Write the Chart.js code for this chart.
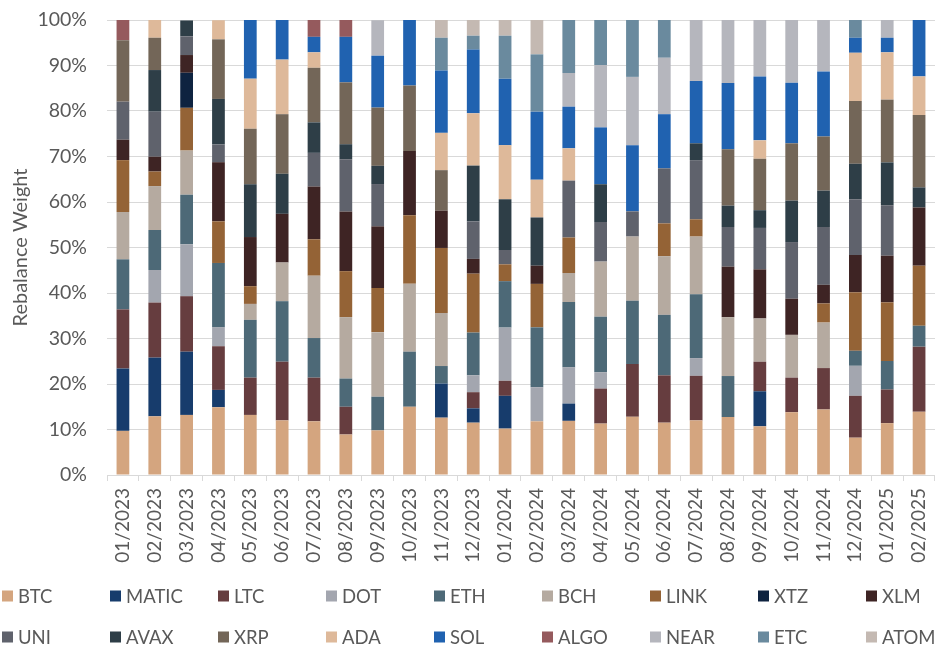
<!DOCTYPE html>
<html>
<head>
<meta charset="utf-8">
<script src="https://cdn.jsdelivr.net/npm/chart.js@4/dist/chart.umd.min.js"></script>
<style>
  html, body { margin: 0; padding: 0; background: #ffffff; }
  #wrap { width: 949px; height: 645px; position: relative; }
</style>
</head>
<body>
<div id="wrap"><canvas id="c" width="949" height="645"></canvas></div>
<script>
const months = ["01/2023","02/2023","03/2023","04/2023","05/2023","06/2023","07/2023","08/2023","09/2023","10/2023","11/2023","12/2023","01/2024","02/2024","03/2024","04/2024","05/2024","06/2024","07/2024","08/2024","09/2024","10/2024","11/2024","12/2024","01/2025","02/2025"];

const BTC   = [9.7,12.9,13.2,14.9,13.2,12.0,11.8,8.9,9.8,15.0,12.6,11.5,10.2,11.8,11.9,11.3,12.8,11.5,12.0,12.75,10.7,13.8,14.4,8.2,11.4,13.9];
const MATIC = [13.7,12.9,13.9,3.8,0,0,0,0,0,0,7.5,3.15,7.2,0,3.8,0,0,0,0,0,7.7,0,0,0,0,0];
const LTC   = [13.0,12.1,12.2,9.6,8.2,12.9,9.6,6.1,0,0,0,3.55,3.3,0,0,7.7,11.6,10.4,9.8,0,6.5,7.6,9.1,9.2,7.4,14.3];
const DOT   = [0,7.15,11.4,4.2,0,0,0,0,0,0,0,3.7,11.7,7.5,8.0,3.6,0,0,3.9,0,0,0,0,6.6,0,0];
const ETH   = [11.0,8.8,10.9,14.1,12.7,13.3,8.7,6.2,7.4,12.1,3.85,9.4,10.2,13.15,14.3,12.2,13.9,13.3,14.0,9.0,0,0,0,3.3,6.25,4.6];
const BCH   = [10.4,9.65,9.7,0,3.5,8.5,13.7,13.5,14.2,14.95,11.65,0,0,0,6.4,12.1,14.1,12.9,12.7,12.95,9.5,9.4,10.0,0,0,0];
const LINK  = [11.4,3.2,9.4,9.15,3.9,0,8.0,10.1,9.7,15.05,14.3,12.95,3.7,9.55,7.8,0,0,7.2,3.8,0,0,0,4.2,12.85,12.9,13.2];
const XTZ   = [0,0,7.7,0,0,0,0,0,0,0,0,0,0,0,0,0,0,0,0,0,0,0,0,0,0,0];
const XLM   = [4.5,3.25,3.9,13.0,10.8,10.7,11.6,13.1,13.55,14.1,8.2,3.25,0,4.0,0,0,0,0,0,11.1,10.8,7.95,4.1,8.2,10.25,12.8];
const UNI   = [8.35,9.9,4.1,3.9,0,0,7.4,11.5,9.3,0,0,8.25,3.15,0,12.5,8.7,5.55,12.1,13.0,8.7,9.1,12.45,12.7,12.25,11.1,0];
const AVAX  = [0,9.15,3.5,10.0,11.6,8.8,6.7,3.3,4.0,0,0,12.25,11.15,10.6,0,8.3,0,0,3.7,4.7,3.9,9.1,8.0,7.8,9.4,4.4];
const XRP   = [13.5,7.1,0,13.1,12.2,13.1,12.0,13.6,12.8,14.4,8.9,0,0,0,0,0,0,0,0,12.4,11.3,12.6,11.9,13.8,13.8,15.9];
const ADA   = [0,3.9,0,4.2,11.0,12.0,3.4,0,0,0,8.2,11.5,11.9,8.3,7.1,0,0,0,0,0,4.05,0,0,10.6,10.4,8.5];
const SOL   = [0,0,0,0,13.0,8.7,3.4,10.0,11.4,14.4,13.7,14.0,14.6,14.95,9.15,12.5,14.5,11.9,13.7,14.55,14.05,13.3,14.3,3.3,3.2,12.4];
const ALGO  = [4.5,0,0,0,0,0,3.7,3.7,0,0,0,0,0,0,0,0,0,0,0,0,0,0,0,0,0,0];
const NEAR  = [0,0,0,0,0,0,0,0,7.8,0,0,0,0,0,7.4,13.7,15.05,12.4,13.4,13.85,12.4,13.8,11.3,0,3.9,0];
const ETC   = [0,0,0,0,0,0,0,0,0,0,7.2,3.05,9.45,12.6,11.65,9.9,12.5,8.3,0,0,0,0,0,3.9,0,0];
const ATOM  = [0,0,0,0,0,0,0,0,0,0,3.9,3.45,3.45,7.55,0,0,0,0,0,0,0,0,0,0,0,0];

const seriesNames = ["BTC","MATIC","LTC","DOT","ETH","BCH","LINK","XTZ","XLM","UNI","AVAX","XRP","ADA","SOL","ALGO","NEAR","ETC","ATOM"];
const seriesValues = [BTC,MATIC,LTC,DOT,ETH,BCH,LINK,XTZ,XLM,UNI,AVAX,XRP,ADA,SOL,ALGO,NEAR,ETC,ATOM];
const seriesColors = ["#D4A57F","#173C6C","#663D3F","#A3A6AF","#4D6977","#B5AAA0","#946336","#0E2340","#3E2424","#5F626C","#2E3E47","#736658","#DEB99A","#2062B0","#955A5D","#B5B6BD","#6A8A9E","#C4B9B2"];
const yTicks = [0,10,20,30,40,50,60,70,80,90,100];

const FONT = "Lato, 'Open Sans', sans-serif";
const TXT = "#595959";

const datasets = seriesNames.map((n, i) => ({
  label: n,
  data: seriesValues[i].map(v => v === 0 ? null : v),
  backgroundColor: seriesColors[i],
  borderWidth: 0,
  barPercentage: 0.4,
  categoryPercentage: 1.0,
  stack: "s"
}));

const legendPlugin = {
  id: "gridLegend",
  afterDraw(chart) {
    const ctx = chart.ctx;
    ctx.save();
    ctx.font = "18.5px " + FONT;
    ctx.textBaseline = "middle";
    ctx.textAlign = "left";
    chart.data.datasets.forEach((ds, i) => {
      const col = i % 9, row = Math.floor(i / 9);
      const x = 2 + col * 108;
      const y = row === 0 ? 596 : 637;
      ctx.fillStyle = ds.backgroundColor;
      ctx.fillRect(x, y - 5.5, 11, 11);
      ctx.fillStyle = TXT;
      ctx.fillText(ds.label, x + 16, y + 1);
    });
    ctx.restore();
  }
};

new Chart(document.getElementById("c"), {
  type: "bar",
  data: { labels: months, datasets },
  plugins: [legendPlugin],
  options: {
    responsive: false,
    animation: false,
    layout: { padding: { top: 20, right: 7, left: 0, bottom: 0 } },
    plugins: { legend: { display: false }, tooltip: { enabled: false } },
    scales: {
      x: {
        stacked: true,
        grid: { display: true, drawOnChartArea: false, drawTicks: true, tickLength: 6, color: "#D9D9D9", offset: true },
        border: { display: true, color: "#D9D9D9", width: 1 },
        ticks: { minRotation: 90, maxRotation: 90, autoSkip: false, padding: 7, color: TXT, font: { family: FONT, size: 19 } },
        afterFit(s) { s.height = 170; }
      },
      y: {
        stacked: true,
        min: 0, max: 100,
        afterBuildTicks(s) { s.ticks = yTicks.map(v => ({ value: v })); },
        grid: { color: "#D9D9D9", lineWidth: 1, drawTicks: true, tickLength: 20, tickColor: "rgba(0,0,0,0)" },
        border: { display: false },
        ticks: { padding: 0, color: TXT, font: { family: FONT, size: 19.5 }, callback: v => v + "%" },
        title: { display: true, text: "Rebalance Weight", color: TXT, font: { family: FONT, size: 20 }, padding: { top: 9, bottom: 0 } },
        afterFit(s) { s.width = 107; }
      }
    }
  }
});
</script>
</body>
</html>
